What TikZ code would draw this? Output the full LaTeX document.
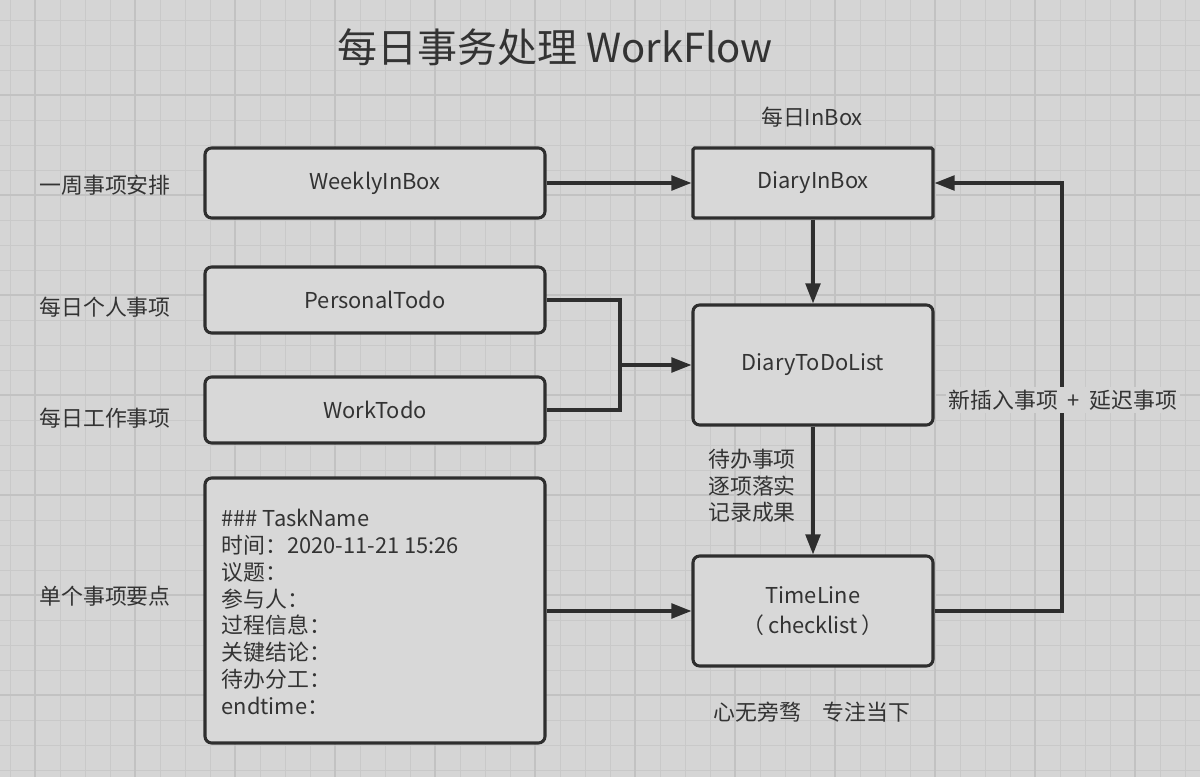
\documentclass[tikz,border=0pt]{standalone}
\usepackage{fontspec}
\setmainfont{Noto Sans CJK SC}
\usetikzlibrary{arrows.meta}
\definecolor{bg}{HTML}{D5D5D5}
\definecolor{minorln}{HTML}{C9C9C9}
\definecolor{majorln}{HTML}{C2C2C2}
\definecolor{boxfill}{HTML}{D8D8D8}
\definecolor{ln}{HTML}{2E2E2E}
\definecolor{txt}{HTML}{333333}
\begin{document}
\begin{tikzpicture}[x=0.75pt,y=-0.75pt,
  box/.style={draw=ln, line width=2.3pt, fill=boxfill, rounded corners=5pt,
    font=\fontsize{16.4}{20}\selectfont, text=txt, inner sep=0pt, align=center},
  sqbox/.style={box, rounded corners=1.2pt},
  link/.style={draw=ln, line width=2.4pt},
  conn/.style={link, -{Triangle[length=15pt,width=11pt]}},
  lbl/.style={font=\fontsize{16.4}{20}\selectfont, text=txt, inner sep=1pt},
  minorgrid/.style={draw=minorln, line width=0.6pt},
  majorgrid/.style={draw=majorln, line width=1.1pt}]
\useasboundingbox (0,0) rectangle (1200,777);
\fill[bg] (0,0) rectangle (1200,777);
\foreach \x in {10,35,...,1200} \draw[minorgrid] (\x,0) -- (\x,777);
\foreach \y in {20,45,...,777} \draw[minorgrid] (0,\y) -- (1200,\y);
\foreach \x in {35,135,...,1200} \draw[majorgrid] (\x,0) -- (\x,777);
\foreach \y in {95,195,...,777} \draw[majorgrid] (0,\y) -- (1200,\y);

\node[font=\fontsize{30}{34}\selectfont, text=txt] (title) at (555,47) {每日事务处理 WorkFlow};

\node[box, minimum width=255pt, minimum height=52.5pt] (weekly) at (375,183) {WeeklyInBox};
\node[sqbox, minimum width=180pt, minimum height=52.5pt] (diaryin) at (813,183) {DiaryInBox};
\node[box, minimum width=255pt, minimum height=49.5pt] (personal) at (375,300) {PersonalTodo};
\node[box, minimum width=255pt, minimum height=49.5pt] (work) at (375,410) {WorkTodo};
\node[box, minimum width=180pt, minimum height=90pt] (diarytodo) at (813,365) {DiaryToDoList};
\node[box, minimum width=255pt, minimum height=198.75pt] (task) at (375,610.5) {};
\node[box, minimum width=180pt, minimum height=82.5pt, font=\fontsize{16.4}{22}\selectfont] (timeline) at (813,611) {TimeLine\\（\,checklist\,）};

\node[lbl, anchor=west, align=left, font=\fontsize{16.4}{20.15}\selectfont] (tasktext) at (220,612)
  {\#\#\# TaskName\\时间：2020-11-21 15:26\\议题：\\参与人：\\过程信息：\\关键结论：\\待办分工：\\endtime：};

\node[lbl] (inboxlbl) at (812,117) {每日InBox};
\node[lbl] (l1) at (105,185) {一周事项安排};
\node[lbl] (l2) at (105,307) {每日个人事项};
\node[lbl] (l3) at (105,418) {每日工作事项};
\node[lbl] (l4) at (105,596) {单个事项要点};
\node[lbl] (l5) at (812,712) {心无旁骛\quad 专注当下};

\coordinate (jn) at (620,365);
\coordinate (fb) at (1062,611);

\draw[conn] (weekly.east) -- (diaryin.west);
\draw[link] (personal.east) -| (jn);
\draw[link] (work.east) -| (jn);
\draw[conn] (jn) -- (diarytodo.west);
\draw[conn] (diaryin.south) -- (diarytodo.north);
\draw[conn] (diarytodo.south) -- (timeline.north);
\draw[conn] (task.east |- timeline.west) -- (timeline.west);
\draw[conn] (timeline.east) -- (fb) |- (diaryin.east);

\node[lbl, fill=bg, inner sep=2pt] (fblbl) at (1063,400) {新插入事项\ \ +\ \ 延迟事项};
\node[lbl, align=center, font=\fontsize{16.4}{20}\selectfont] (midlbl) at (752,486) {待办事项\\逐项落实\\记录成果};
\end{tikzpicture}
\end{document}
